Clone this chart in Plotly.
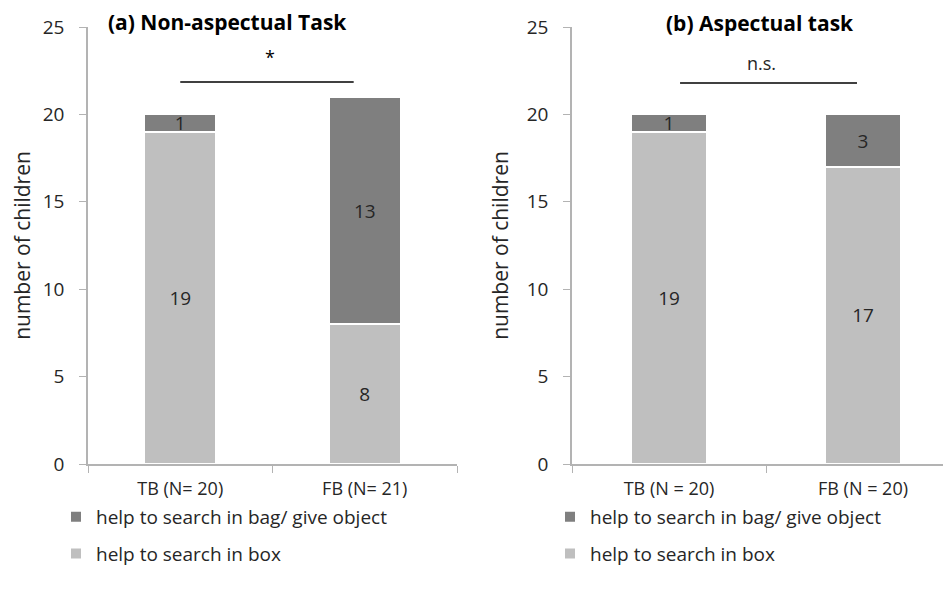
import plotly.graph_objects as go

# ---- data ----
categories_a = ["TB (N= 20)", "FB (N= 21)"]
box_a = [19, 8]
bag_a = [1, 13]

categories_b = ["TB (N = 20)", "FB (N = 20)"]
box_b = [19, 17]
bag_b = [1, 3]

series_names = ["help to search in box", "help to search in bag/ give object"]
yticks = [0, 5, 10, 15, 20, 25]
sig_a = "*"
sig_b = "n.s."
title_a = "(a) Non-aspectual Task"
title_b = "(b) Aspectual task"
ytitle = "number of children"

LIGHT = "#bfbfbf"
DARK = "#7f7f7f"
FONT = "Open Sans"
TXT = "#262626"
AX = "#b3b3b3"
FS = 19

# page body has an 8px margin: lay the figure out in page pixels and compensate
OFF = 8
W, H = 951 - OFF, 594 - OFF
def px(x): return (x - OFF) / W
def py(y): return 1 - (y - OFF) / H

fig = go.Figure()

def add_bars(cats, box, bag, xa, ya, leg):
    for rank, (name, vals, col) in zip([2, 1], [(series_names[0], box, LIGHT), (series_names[1], bag, DARK)]):
        fig.add_trace(go.Bar(
            x=cats, y=vals, name=name, xaxis=xa, yaxis=ya, legend=leg,
            legendgroup=leg + name, legendrank=rank,
            marker=dict(color=col, line=dict(color="white", width=2)),
            width=0.39, text=vals, texttemplate="%{text}",
            textposition="inside", insidetextanchor="middle", textangle=0,
            textfont=dict(family=FONT, size=FS, color=TXT),
            hoverinfo="skip",
        ))

add_bars(categories_a, box_a, bag_a, "x", "y", "legend")
add_bars(categories_b, box_b, bag_b, "x2", "y2", "legend2")

ydom = [py(464), py(27)]
yax = dict(range=[0, 25], tickvals=yticks, showgrid=False, showline=True, automargin=False,
           linecolor=AX, linewidth=1.5, ticks="outside", ticklen=7, tickcolor=AX,
           tickfont=dict(family=FONT, size=FS, color=TXT), zeroline=False,
           ticklabelstandoff=11,
           title=dict(text=ytitle, font=dict(family=FONT, size=21, color=TXT), standoff=12))
xax = dict(type="category", tickson="boundaries", showgrid=False, showline=True, automargin=False,
           linecolor=AX, linewidth=1.5, ticks="outside", ticklen=7, tickcolor=AX,
           tickfont=dict(family=FONT, size=18, color=TXT), ticklabelstandoff=8)

legcommon = dict(xanchor="left", yanchor="top", traceorder="grouped", tracegroupgap=9,
                 font=dict(family=FONT, size=19, color=TXT), itemwidth=30,
                 bgcolor="rgba(0,0,0,0)")

fig.update_layout(
    width=W, height=H, margin=dict(l=0, r=0, t=0, b=0, autoexpand=False),
    paper_bgcolor="white", plot_bgcolor="white",
    barmode="stack", bargap=0.6,
    uniformtext=dict(minsize=FS, mode="show"),
    xaxis=dict(xax, domain=[px(88), px(457)], range=[-0.5, 1.5], anchor="y"),
    yaxis=dict(yax, domain=ydom, anchor="x"),
    xaxis2=dict(xax, domain=[px(572), 1.0], range=[-0.5, -0.5 + (951 - 572) / 194], anchor="y2"),
    yaxis2=dict(yax, domain=ydom, anchor="x2"),
    legend=dict(legcommon, x=px(56), y=py(498)),
    legend2=dict(legcommon, x=px(550), y=py(498)),
    showlegend=True,
)

# significance bars
fig.add_shape(type="line", xref="x", yref="y", x0=0.0, x1=0.94, y0=21.85, y1=21.85,
              line=dict(color="black", width=1.5))
fig.add_shape(type="line", xref="x2", yref="y2", x0=0.057, x1=0.969, y0=21.8, y1=21.8,
              line=dict(color="black", width=1.5))
fig.add_annotation(xref="x", yref="y", x=0.486, y=23.3, text=sig_a, showarrow=False,
                   font=dict(family=FONT, size=18, color="black"))
fig.add_annotation(xref="x2", yref="y2", x=0.479, y=22.95, text=sig_b, showarrow=False,
                   font=dict(family=FONT, size=18, color=TXT))

# titles
fig.add_annotation(xref="paper", yref="paper", x=px(227), y=py(22), xanchor="center", yanchor="middle",
                   text="<b>" + title_a + "</b>",
                   showarrow=False, font=dict(family=FONT, size=21, color="black"))
fig.add_annotation(xref="paper", yref="paper", x=px(760), y=py(23), xanchor="center", yanchor="middle",
                   text="<b>" + title_b + "</b>",
                   showarrow=False, font=dict(family=FONT, size=21, color="black"))

fig.write_html("out.html")
